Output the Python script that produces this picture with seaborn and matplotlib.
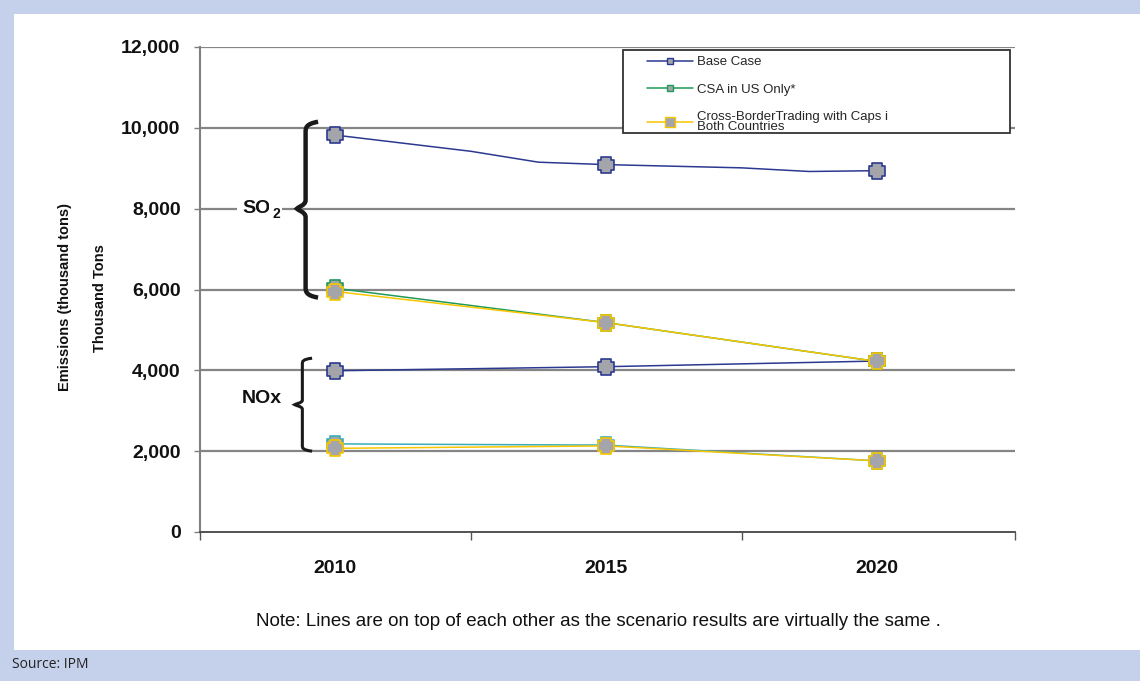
import matplotlib
matplotlib.use("Agg")
import matplotlib.pyplot as plt
import seaborn as sns
import pandas as pd
from matplotlib.path import Path
from matplotlib.patches import PathPatch, Rectangle
from matplotlib.lines import Line2D

# ---------------- data ----------------
years_base = [2010, 2012.5, 2013.75, 2015, 2017.5, 2018.75, 2020]
base_so2 = [9820, 9420, 9150, 9090, 9010, 8920, 8940]
years = [2010, 2015, 2020]
csa_so2 = [6030, 5180, 4220]
cb_so2 = [5950, 5180, 4220]
base_nox = [3990, 4090, 4230]
csa_nox = [2180, 2150, 1760]
cb_nox = [2070, 2130, 1760]
marker_years = [2010, 2015, 2020]
yticks = [0, 2000, 4000, 6000, 8000, 10000, 12000]
xtick_labels = ["2010", "2015", "2020"]
legend_labels = ["Base Case", "CSA in US Only*",
                 "Cross-BorderTrading with Caps i\nBoth Countries"]

NAVY = "#2b3990"
GREEN = "#1f9a5a"
TEAL = "#38adb8"
YELLOW = "#f7c600"
FACE = "#a3a5ab"

# chunky plus marker
_a, _b = 1.0, 0.6
PLUS = Path([(-_b, _a), (_b, _a), (_b, _b), (_a, _b), (_a, -_b), (_b, -_b),
             (_b, -_a), (-_b, -_a), (-_b, -_b), (-_a, -_b), (-_a, _b),
             (-_b, _b), (-_b, _a)], closed=True)

sns.set_theme(style="white")
plt.rcParams["font.family"] = ["Liberation Sans", "DejaVu Sans"]

fig = plt.figure(figsize=(11.4, 6.81), dpi=100)
fig.patch.set_facecolor("#c5d0eb")
fig.patches.append(Rectangle((14 / 1140, 31 / 681), 1 - 14 / 1140, (650 - 14) / 681,
                             transform=fig.transFigure, facecolor="white",
                             edgecolor="none", zorder=-5))

ax = fig.add_axes([200 / 1140, 1 - 532 / 681, 815 / 1140, 485 / 681])
ax.set_zorder(2)
ax.set_facecolor("white")

series = [
    (years_base, base_so2, NAVY),
    (years, base_nox, NAVY),
    (years, csa_so2, GREEN),
    (years, csa_nox, TEAL),
    (years, cb_so2, YELLOW),
    (years, cb_nox, YELLOW),
]
for i, (xs, ys, col) in enumerate(series):
    df = pd.DataFrame({"year": xs, "value": ys})
    sns.lineplot(data=df, x="year", y="value", color=col, linewidth=1.1,
                 ax=ax, zorder=3 + i * 0.1)
for i, (xs, ys, col) in enumerate(series):
    df = pd.DataFrame({"year": xs, "value": ys})
    dm = df[df["year"].isin(marker_years)]
    sns.scatterplot(data=dm, x="year", y="value", marker=PLUS, s=135,
                    color=FACE, edgecolor=col, linewidth=1.2, ax=ax,
                    zorder=5 + i * 0.1)

ax.set_xlim(2007.5, 2022.55)
ax.set_ylim(0, 12000)
ax.set_yticks(yticks)
ax.set_yticklabels([f"{v:,}" for v in yticks], fontsize=14, fontweight="bold",
                   color="#111111")
ax.set_xticks(marker_years)
ax.set_xticklabels(xtick_labels, fontsize=14, fontweight="bold", color="#111111")
ax.set_xticks([2007.5, 2012.5, 2017.5, 2022.55], minor=True)
ax.tick_params(axis="x", which="major", length=0, pad=20)
ax.tick_params(axis="x", which="minor", length=6, width=1, color="#555555",
               direction="out", bottom=True)
ax.tick_params(axis="y", which="major", length=4, width=1, color="#808080",
               direction="out", left=True, pad=10)
ax.set_xlabel("")
ax.set_ylabel("")
for g in yticks[1:]:
    ax.axhline(g, color="#858585", linewidth=1.6, zorder=1)
for s in ["top", "right"]:
    ax.spines[s].set_visible(False)
ax.spines["left"].set_color("#808080")
ax.spines["left"].set_linewidth(1.5)
ax.spines["bottom"].set_color("#444444")
ax.spines["bottom"].set_linewidth(1.3)


def brace(ax, top, bottom, mid, x_spine, x_tip, x_end, lw):
    d = (top - bottom) * 0.06
    verts = [
        (x_end, top),
        (x_spine, top - d * 0.2), (x_spine, top - d * 0.6), (x_spine, top - d),
        (x_spine, mid + d * 0.8),
        (x_spine, mid + d * 0.3), (x_tip, mid + d * 0.1), (x_tip, mid),
        (x_tip, mid - d * 0.1), (x_spine, mid - d * 0.3), (x_spine, mid - d * 0.8),
        (x_spine, bottom + d),
        (x_spine, bottom + d * 0.6), (x_spine, bottom + d * 0.2), (x_end, bottom),
    ]
    codes = [Path.MOVETO,
             Path.CURVE4, Path.CURVE4, Path.CURVE4,
             Path.LINETO,
             Path.CURVE4, Path.CURVE4, Path.CURVE4,
             Path.CURVE4, Path.CURVE4, Path.CURVE4,
             Path.LINETO,
             Path.CURVE4, Path.CURVE4, Path.CURVE4]
    ax.add_patch(PathPatch(Path(verts, codes), facecolor="none",
                           edgecolor="#1a1a1a", linewidth=lw,
                           capstyle="butt", zorder=6, clip_on=False))


brace(ax, 10150, 5800, 8000, 2009.45, 2009.29, 2009.68, 3.2)
brace(ax, 4300, 2000, 3150, 2009.39, 2009.25, 2009.57, 2.2)

ax.text(2008.54, 8000, "SO", fontsize=14, fontweight="bold", ha="center",
        va="center", color="#111111", zorder=7,
        bbox=dict(facecolor="white", edgecolor="none", pad=4))
ax.text(2008.9, 7880, "2", fontsize=10, fontweight="bold", ha="center",
        va="center", color="#111111", zorder=7,
        bbox=dict(facecolor="white", edgecolor="none", pad=2))
ax.text(2008.65, 3310, "NOx", fontsize=14, fontweight="bold", ha="center",
        va="center", color="#111111", zorder=7)

fig.text(65 / 1140, 1 - 297 / 681, "Emissions (thousand tons)", rotation=90,
         fontsize=10.5, fontweight="bold", ha="center", va="center",
         color="#111111")
fig.text(100 / 1140, 1 - 298 / 681, "Thousand Tons", rotation=90,
         fontsize=10.5, fontweight="bold", ha="center", va="center",
         color="#111111")

handles = [
    Line2D([], [], color=NAVY, lw=1.1, marker="s", markersize=5,
           markerfacecolor=FACE, markeredgecolor=NAVY),
    Line2D([], [], color=GREEN, lw=1.1, marker="s", markersize=5,
           markerfacecolor=FACE, markeredgecolor=GREEN),
    Line2D([], [], color=YELLOW, lw=1.1, marker="s", markersize=7,
           markerfacecolor=FACE, markeredgecolor=YELLOW),
]
# legend frame drawn separately to control inner offsets
ax.add_patch(Rectangle((0.519, 0.823), 0.475, 0.171, transform=ax.transAxes,
                       facecolor="white", edgecolor="#333333", linewidth=1.3,
                       zorder=9, clip_on=False))
leg = ax.legend(handles, legend_labels, loc="upper left",
                bbox_to_anchor=(0.548, 0.981), frameon=False,
                fontsize=9.5, handlelength=3.5, handletextpad=0.3,
                borderpad=0, labelspacing=1.15, borderaxespad=0)
leg.set_zorder(10)
for t in leg.get_texts():
    t.set_linespacing(0.8)

fig.text(598 / 1140, 1 - 621 / 681,
         "Note: Lines are on top of each other as the scenario results are virtually the same .",
         fontsize=13.5, ha="center", va="center", color="#111111")
fig.text(12 / 1140, 1 - 664 / 681, "Source: IPM", fontsize=10,
         family=["Open Sans", "DejaVu Sans"], ha="left", va="center",
         color="#222222")

fig.savefig("out.png", dpi=100, facecolor=fig.get_facecolor())
